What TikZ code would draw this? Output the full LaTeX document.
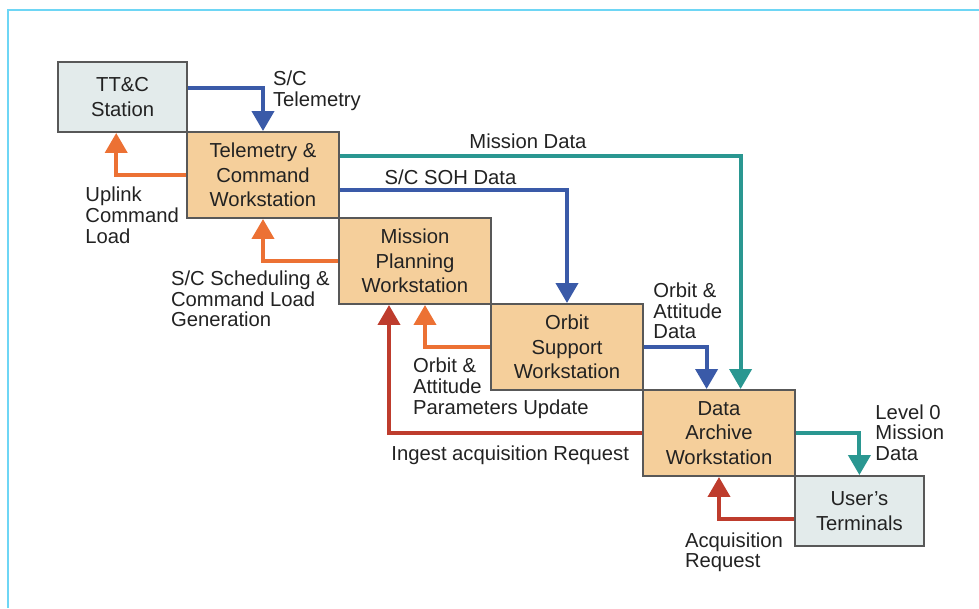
\documentclass[tikz,border=0pt]{standalone}
\usepackage{fontspec}
\setmainfont{Liberation Sans}
\usetikzlibrary{arrows.meta}

\definecolor{framecyan}{RGB}{110,214,245}
\definecolor{boxorange}{RGB}{245,207,155}
\definecolor{boxgray}{RGB}{227,235,235}
\definecolor{boxline}{RGB}{88,88,88}
\definecolor{txt}{RGB}{34,34,34}
\definecolor{flowblue}{RGB}{58,90,168}
\definecolor{floworange}{RGB}{236,113,52}
\definecolor{flowteal}{RGB}{42,151,145}
\definecolor{flowred}{RGB}{190,60,45}

\begin{document}
\begin{tikzpicture}[
    >={Triangle[length=0.5cm,width=0.55cm]},
    box/.style={rectangle, draw=boxline, line width=1.4pt, align=center, inner sep=0pt,
                text=txt, font=\fontsize{14.4pt}{17.4pt}\selectfont},
    station/.style={box, fill=boxorange, minimum width=3.8cm, minimum height=2.15cm},
    terminal/.style={box, fill=boxgray, minimum width=3.22cm, minimum height=1.75cm},
    lbl/.style={anchor=north west, align=left, inner sep=0pt, text=txt,
                font=\fontsize{14.4pt}{14.6pt}\selectfont},
    arr/.style={->, line width=2.8pt}
  ]
  \useasboundingbox (0,0) rectangle (24.475,15.2);
  % frame
  \draw[framecyan, line width=1.4pt] (0.2,0) -- (0.2,14.95) -- (24.475,14.95);

  \node[terminal] (ttc) at (3.065,12.775) {TT\&C\\Station};
  \node[station] (tcw) at (6.575,10.825) {Telemetry \&\\Command\\Workstation};
  \node[station] (mpw) at (10.375,8.675) {Mission\\Planning\\Workstation};
  \node[station] (osw) at (14.175,6.525) {Orbit\\Support\\Workstation};
  \node[station] (daw) at (17.975,4.375) {Data\\Archive\\Workstation};
  \node[terminal] (usr) at (21.485,2.425) {User’s\\Terminals};

  % flows
  \draw[arr, draw=flowblue] ([yshift=0.225cm]ttc.east) -| (tcw.north);
  \draw[arr, draw=floworange] (tcw.west) -| ([xshift=-0.16cm]ttc.south);
  \draw[arr, draw=floworange] (mpw.west) -| (tcw.south);
  \draw[arr, draw=flowteal] ([yshift=0.475cm]tcw.east) -| ([xshift=0.54cm]daw.north);
  \draw[arr, draw=flowblue] ([yshift=-0.375cm]tcw.east) -| (osw.north);
  \draw[arr, draw=flowblue] (osw.east) -| ([xshift=-0.31cm]daw.north);
  \draw[arr, draw=floworange] (osw.west) -| ([xshift=0.25cm]mpw.south);
  \draw[arr, draw=flowred] (daw.west) -| ([xshift=-0.65cm]mpw.south);
  \draw[arr, draw=flowteal] (daw.east) -| (usr.north);
  \draw[arr, draw=flowred] ([yshift=-0.21cm]usr.west) -| (daw.south);

  % labels
  \node[lbl] (lTel) at (6.82,13.425) {S/C\\Telemetry};
  \node[lbl] (lUpl) at (2.13,10.525) {Uplink\\Command\\Load};
  \node[lbl] (lSch) at (4.27,8.43) {S/C Scheduling \&\\Command Load\\Generation};
  \node[lbl] (lMis) at (11.73,11.85) {Mission Data};
  \node[lbl] (lSoh) at (9.61,10.95) {S/C SOH Data};
  \node[lbl] (lOad) at (16.33,8.13) {Orbit \&\\Attitude\\Data};
  \node[lbl] (lOpu) at (10.32,6.25) {Orbit \&\\Attitude\\Parameters Update};
  \node[lbl] (lIng) at (9.78,4.06) {Ingest acquisition Request};
  \node[lbl] (lLev) at (21.88,5.09) {Level 0\\Mission\\Data};
  \node[lbl] (lAcq) at (17.12,1.89) {Acquisition\\Request};
\end{tikzpicture}
\end{document}
